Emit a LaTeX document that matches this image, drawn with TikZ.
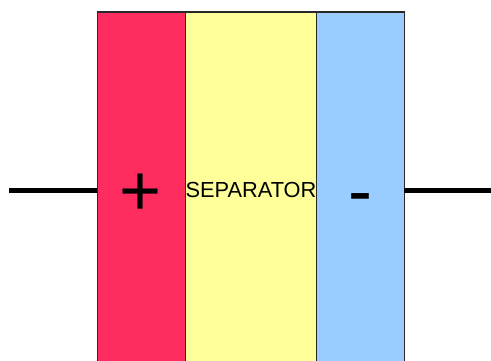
\documentclass[tikz,border=0pt]{standalone}
\usepackage{fontspec}
\setmainfont{Liberation Sans}
\definecolor{posred}{RGB}{255,45,95}
\definecolor{sepyellow}{RGB}{255,255,153}
\definecolor{negblue}{RGB}{153,204,255}
\definecolor{bandedge}{RGB}{40,40,40}
\begin{document}
\begin{tikzpicture}[x=1pt,y=-1pt,
  band/.style={draw=bandedge, line width=1.3pt, minimum height=356pt,
    inner sep=0pt, outer sep=0pt, anchor=north west},
  wire/.style={line width=5pt},
  sign/.style={font=\fontsize{72}{80}\selectfont, inner sep=0pt, anchor=base},
  label/.style={font=\fontsize{21.8}{24}\selectfont, inner sep=0pt, anchor=base}]
\useasboundingbox (0,0) rectangle (491,360);
\clip (0,0) rectangle (491,360);
% electrode / separator / electrode stack
\node[band, fill=posred, minimum width=88pt] (pos) at (97.3,12) {};
\node[band, fill=sepyellow, minimum width=131pt] (sep) at (185.3,12) {};
\node[band, fill=negblue, minimum width=88pt] (neg) at (316.3,12) {};
% terminal leads
\coordinate (leadL) at (9,190);
\coordinate (leadR) at (491,190);
\draw[wire] (leadL) -- (pos.west);
\draw[wire] (neg.east) -- (leadR);
% labels
\node[sign] (plus) at (140.5,215) {+};
\node[label] (septext) at (251,197.5) {SEPARATOR};
\node[sign] (minus) at (360,215) {-};
\end{tikzpicture}
\end{document}
